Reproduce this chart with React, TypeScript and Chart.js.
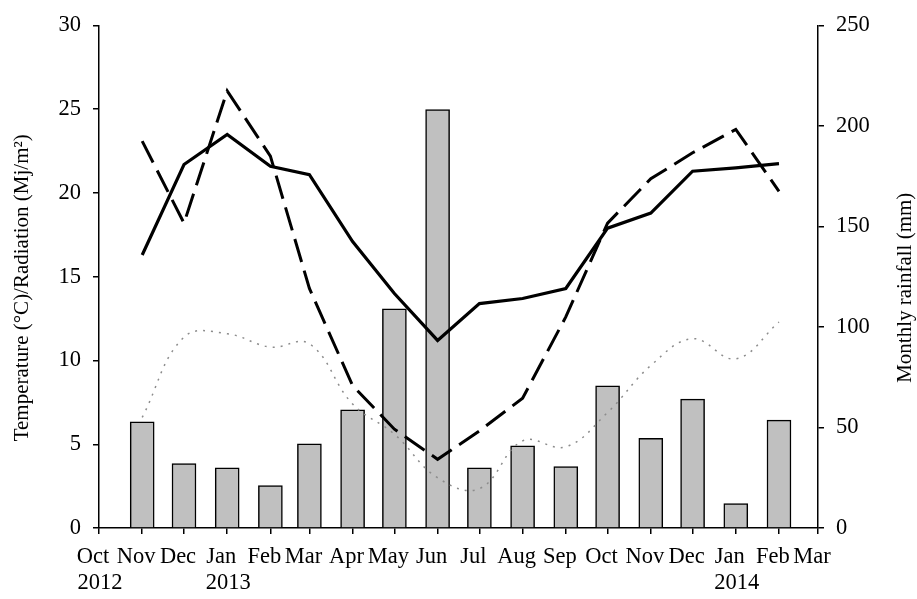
import React, { useEffect, useRef } from "react";
import { Chart, registerables } from "chart.js";

Chart.register(...registerables);

// Month boundaries of the date axis (Oct 2012 .. Mar 2014)
const monthStarts = [
  "2012-10-01", "2012-11-01", "2012-12-01", "2013-01-01", "2013-02-01", "2013-03-01",
  "2013-04-01", "2013-05-01", "2013-06-01", "2013-07-01", "2013-08-01", "2013-09-01",
  "2013-10-01", "2013-11-01", "2013-12-01", "2014-01-01", "2014-02-01", "2014-03-01",
];
const monthLabels = [
  "Oct", "Nov", "Dec", "Jan", "Feb", "Mar", "Apr", "May", "Jun",
  "Jul", "Aug", "Sep", "Oct", "Nov", "Dec", "Jan", "Feb", "Mar",
];
const yearTickDates = ["2012-10-01", "2013-01-01", "2014-01-01"];
const yearLabels = ["2012", "2013", "2014"];

// Observation months (Nov 2012 .. Feb 2014)
const obsMonths = [
  "2012-11-01", "2012-12-01", "2013-01-01", "2013-02-01", "2013-03-01", "2013-04-01",
  "2013-05-01", "2013-06-01", "2013-07-01", "2013-08-01", "2013-09-01", "2013-10-01",
  "2013-11-01", "2013-12-01", "2014-01-01", "2014-02-01",
];

// Monthly rainfall (mm), right axis
const rainfall = [52.8, 32.1, 29.9, 21.1, 41.9, 58.8, 109, 208.2, 29.9, 40.9, 30.5, 70.7, 44.6, 64.1, 12.2, 53.7];
// Solid line (left axis)
const solidSeries = [16.3, 21.7, 23.5, 21.6, 21.1, 17.1, 14.0, 11.2, 13.4, 13.7, 14.3, 17.9, 18.8, 21.3, 21.5, 21.75];
// Dashed line (left axis)
const dashedSeries = [23.1, 18.2, 26.1, 22.2, 14.3, 8.5, 5.9, 4.1, 5.8, 7.75, 12.6, 18.2, 20.85, 22.4, 23.8, 20.1];
// Dotted grey line (left axis)
const dottedSeries = [6.6, 11.4, 11.6, 10.8, 11.0, 7.4, 5.6, 3.0, 2.35, 5.2, 4.85, 6.9, 9.7, 11.3, 10.1, 12.3];

const leftTitle = "Temperature (°C)/Radiation (Mj/m²)";
const rightTitle = "Monthly rainfall (mm)";

const ORIGIN = Date.parse(monthStarts[0]);
const dayOf = (s: string) => (Date.parse(s) - ORIGIN) / 86400000;

const FONT = "'Liberation Serif', 'Times New Roman', serif";

// Both axis titles read bottom-to-top, as in the original
const axisTitlesPlugin = {
  id: "axisTitles",
  afterDraw(chart: any) {
    const c = chart.ctx;
    const area = chart.chartArea;
    const cy = (area.top + area.bottom) / 2 + 11;
    const draw = (text: string, x: number) => {
      c.save();
      c.translate(x, cy);
      c.rotate(-Math.PI / 2);
      c.font = `21px ${FONT}`;
      c.fillStyle = "#000";
      c.textAlign = "center";
      c.textBaseline = "middle";
      c.fillText(text, 0, 0);
      c.restore();
    };
    draw(leftTitle, chart.scales.y.left + 22);
    draw(rightTitle, chart.scales.y1.right - 12);
  },
};

export default function App() {
  const ref = useRef<HTMLCanvasElement>(null);

  useEffect(() => {
    const canvas = ref.current;
    if (!canvas) return;
    const xMin = dayOf(monthStarts[0]);
    const xMax = dayOf(monthStarts[monthStarts.length - 1]);
    const pts = (vals: number[]) => obsMonths.map((d, i) => ({ x: dayOf(d), y: vals[i] }));

    const chart = new Chart(canvas, {
      type: "bar",
      data: {
        datasets: [
          {
            type: "line",
            data: pts(solidSeries),
            borderColor: "#000",
            borderWidth: 3.2,
            pointRadius: 0,
            tension: 0,
            fill: false,
            xAxisID: "x",
            yAxisID: "y",
            order: 0,
          } as any,
          {
            type: "line",
            data: pts(dashedSeries),
            borderColor: "#000",
            borderWidth: 3,
            borderDash: [24, 9],
            pointRadius: 0,
            tension: 0,
            fill: false,
            xAxisID: "x",
            yAxisID: "y",
            order: 0,
          } as any,
          {
            type: "line",
            data: pts(dottedSeries),
            borderColor: "#8c8c8c",
            borderWidth: 1.5,
            borderDash: [2, 6],
            pointRadius: 0,
            tension: 0.4,
            fill: false,
            xAxisID: "x",
            yAxisID: "y",
            order: 0,
          } as any,
          {
            type: "bar",
            data: pts(rainfall),
            backgroundColor: "#c0c0c0",
            borderColor: "#000",
            borderWidth: 1.5,
            barThickness: 24,
            xAxisID: "x",
            yAxisID: "y1",
            order: 1,
          } as any,
        ],
      },
      options: {
        animation: false,
        responsive: false,
        devicePixelRatio: 1,
        layout: { padding: { top: 24, left: 0, right: 0, bottom: 0 } },
        plugins: { legend: { display: false }, tooltip: { enabled: false } },
        scales: {
          x: {
            type: "linear",
            position: "bottom",
            min: xMin,
            max: xMax,
            offset: false,
            weight: 0,
            afterBuildTicks: (scale: any) => {
              scale.ticks = monthStarts.map((d) => ({ value: dayOf(d) }));
            },
            afterFit: (scale: any) => {
              scale.height = 44;
            },
            ticks: {
              callback: (_v: any, i: number) => monthLabels[i],
              autoSkip: false,
              maxRotation: 0,
              minRotation: 0,
              labelOffset: -6,
              padding: 10,
              color: "#000",
              font: { family: FONT, size: 22.5 },
            },
            grid: {
              offset: false,
              drawOnChartArea: false,
              color: "#000",
              lineWidth: 1.5,
              tickLength: 6,
            },
            border: { color: "#000", width: 1.5 },
          },
          x2: {
            type: "linear",
            axis: "x",
            position: "bottom",
            min: xMin,
            max: xMax,
            offset: false,
            weight: 1,
            afterBuildTicks: (scale: any) => {
              scale.ticks = yearTickDates.map((d) => ({ value: dayOf(d) }));
            },
            afterFit: (scale: any) => {
              scale.height = 27;
            },
            ticks: {
              callback: (_v: any, i: number) => yearLabels[i],
              autoSkip: false,
              maxRotation: 0,
              minRotation: 0,
              labelOffset: 1,
              padding: -2,
              color: "#000",
              font: { family: FONT, size: 22.5 },
            },
            grid: { display: false, drawTicks: false, offset: false },
            border: { display: false },
          },
          y: {
            type: "linear",
            position: "left",
            min: 0,
            max: 30,
            afterFit: (scale: any) => {
              scale.width = 99;
            },
            ticks: {
              stepSize: 5,
              padding: 12,
              color: "#000",
              font: { family: FONT, size: 22.5 },
            },
            grid: {
              drawOnChartArea: false,
              color: "#000",
              lineWidth: 1.5,
              tickLength: 6,
            },
            border: { color: "#000", width: 1.5 },
          },
          y1: {
            type: "linear",
            position: "right",
            min: 0,
            max: 250,
            afterFit: (scale: any) => {
              scale.width = 99;
            },
            ticks: {
              stepSize: 50,
              padding: 12,
              color: "#000",
              font: { family: FONT, size: 22.5 },
            },
            grid: {
              drawOnChartArea: false,
              color: "#000",
              lineWidth: 1.5,
              tickLength: 6,
            },
            border: { color: "#000", width: 1.5 },
          },
        },
      } as any,
      plugins: [axisTitlesPlugin],
    });
    return () => chart.destroy();
  }, []);

  return (
    <div style={{ position: "fixed", left: 0, top: 0, width: 917, height: 599, background: "#fff" }}>
      <canvas ref={ref} width={917} height={599} style={{ display: "block", width: 917, height: 599 }} />
    </div>
  );
}
